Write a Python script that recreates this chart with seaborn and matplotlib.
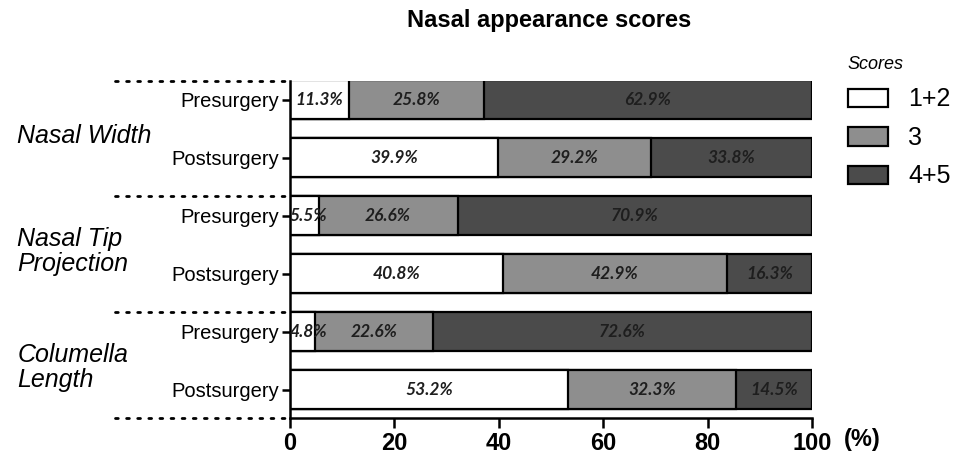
import numpy as np
import matplotlib.pyplot as plt
import matplotlib.transforms as mtransforms
import seaborn as sns
from matplotlib.patches import Patch

# data
rows = ["NW pre", "NW post", "NT pre", "NT post", "CL pre", "CL post"]
row_labels = ["Presurgery", "Postsurgery"] * 3
groups = ["Nasal Width", "Nasal Tip\nProjection", "Columella\nLength"]
score_names = ["1+2", "3", "4+5"]
pct_12 = [11.3, 39.9, 5.5, 40.8, 4.8, 53.2]
pct_3 = [25.8, 29.2, 26.6, 42.9, 22.6, 32.3]
pct_45 = [62.9, 33.8, 70.9, 16.3, 72.6, 14.5]
colors = ["#ffffff", "#8e8e8e", "#4b4b4b"]

sns.set_style("ticks")
plt.rcParams['font.family'] = ['Liberation Sans', 'DejaVu Sans']
plt.rcParams['text.color'] = 'black'
plt.rcParams['xtick.color'] = 'black'
plt.rcParams['ytick.color'] = 'black'
plt.rcParams['axes.edgecolor'] = 'black'

fig = plt.figure(figsize=(9.57, 4.59), dpi=100)
ax = fig.add_axes([0.303, 0.0893, 0.5455, 0.7342])

cum_3 = np.array(pct_12) + np.array(pct_3)
full = [100] * len(rows)

# stacked look: full bar, then 1+2+3, then 1+2 on top
for vals, c in [(full, colors[2]), (cum_3, colors[1]), (pct_12, colors[0])]:
    sns.barplot(x=vals, y=rows, color=c, saturation=1, edgecolor="black",
                linewidth=1.6, width=0.68, orient="h", ax=ax)

ax.set_ylim(5.49, -0.32)
ax.set_xlim(0, 100)

# segment labels
lab_font = dict(family=["Lato", "DejaVu Sans"], weight="bold", style="italic",
                fontsize=12.5, color="#1e1e1e", ha="center", va="center")
for i in range(len(rows)):
    a = pct_12[i]
    b = cum_3[i]
    ax.text(max(a / 2, 3.5), i, f"{pct_12[i]}%", **lab_font)
    ax.text((a + b) / 2, i, f"{pct_3[i]}%", **lab_font)
    ax.text((b + 100) / 2, i, f"{pct_45[i]}%", **lab_font)

ax.set_yticks(range(len(rows)))
ax.set_yticklabels(row_labels, fontsize=14.5)
ax.set_xticks([0, 20, 40, 60, 80, 100])
ax.set_xticklabels(["0", "20", "40", "60", "80", "100"],
                   fontweight="bold", fontsize=17)
ax.set_xlabel("")
ax.set_ylabel("")
ax.tick_params(axis="y", length=6, width=1.8, pad=2)
ax.tick_params(axis="x", length=7, width=1.8, pad=3)
sns.despine(ax=ax)
ax.spines["left"].set_linewidth(1.8)
ax.spines["bottom"].set_linewidth(1.8)

fig.text(0.882, 0.042, "(%)", fontsize=17, fontweight="bold",
         ha="left", va="center")

# dotted separators left of the axis
for y in [-0.32, 1.66, 3.66, 5.49]:
    ax.plot([-0.335, 0], [y, y], transform=ax.get_yaxis_transform(),
            clip_on=False, color="black", lw=2, linestyle=(0, (1, 3)),
            dash_capstyle="round")

# group labels
tr = mtransforms.blended_transform_factory(fig.transFigure, ax.transData)
for g, name in enumerate(groups):
    ax.text(0.018, 2 * g + 0.5 + 0.12, name, transform=tr, fontsize=18,
            style="italic", ha="left", va="center", linespacing=1.05)

fig.text(0.574, 0.955, "Nasal appearance scores", fontsize=17,
         fontweight="bold", ha="center", va="center")

handles = [Patch(facecolor=c, edgecolor="black", linewidth=1.6) for c in colors]
leg = fig.legend(handles, score_names, loc="upper left",
                 bbox_to_anchor=(0.886, 0.878), frameon=False, fontsize=18,
                 title="Scores", title_fontproperties=dict(size=13, style="italic"),
                 handlelength=1.6, handleheight=0.76, handletextpad=0.8,
                 labelspacing=0.58, borderaxespad=0, borderpad=0,
                 alignment="left")

fig.savefig("out.png", dpi=100)
